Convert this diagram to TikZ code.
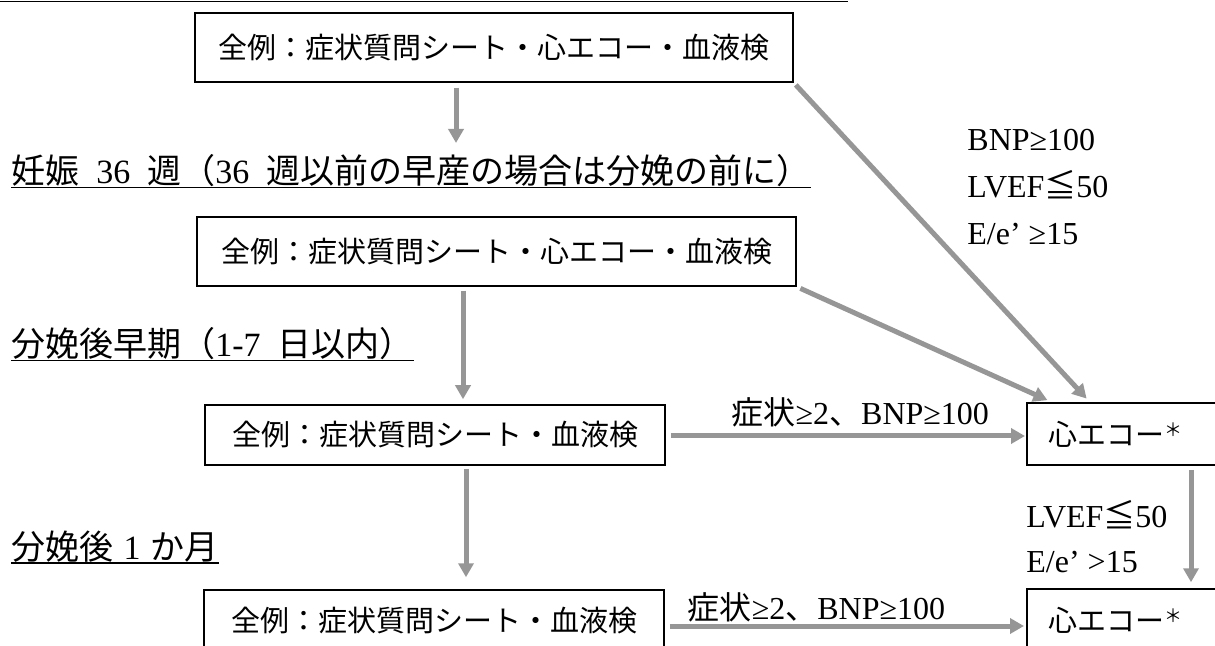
\documentclass[tikz,border=0pt]{standalone}
\usepackage{fontspec}
\setmainfont{Liberation Serif}
\newfontfamily\jp{Noto Sans CJK JP}
\usetikzlibrary{arrows.meta}
\definecolor{arrowgray}{RGB}{150,150,150}
\newcommand{\hsp}{\hspace{0.5em}}
\newcommand{\hsq}{\hspace{0.3em}}
\newcommand{\astx}{\raisebox{0.3em}{\fontsize{9}{9}\selectfont ＊}}
\tikzset{
  box/.style={draw=black, line width=0.75pt, inner sep=0pt, font=\jp\fontsize{14.5}{17}\selectfont},
  echobox/.style={box, anchor=west, text width=85pt, align=left, inner xsep=11pt, minimum height=31pt},
  head/.style={anchor=west, inner sep=0pt, font=\jp\fontsize{17}{19}\selectfont},
  uline/.style={draw=black, line width=0.7pt},
  lab/.style={inner sep=0pt, font=\fontsize{16}{18}\selectfont},
  arr/.style={draw=arrowgray, line width=2.5pt, -{Triangle[width=7.5pt,length=7pt]}},
}
\begin{document}
\begin{tikzpicture}[x=0.5pt,y=-0.5pt]
\useasboundingbox (0,0) rectangle (1215,646);
\clip (0,0) rectangle (1215,646);

% top underline of a heading cut off above
\draw[uline] (0,1.5) -- (848,1.5);

% boxes
\node[box, minimum width=299pt, minimum height=34.5pt] (box1) at (494,47.5) {全例：症状質問シート・心エコー・血液検};
\node[box, minimum width=299.5pt, minimum height=34.5pt] (box2) at (496.5,251.5) {全例：症状質問シート・心エコー・血液検};
\node[box, minimum width=230pt, minimum height=30pt] (box3) at (435,435) {全例：症状質問シート・血液検};
\node[box, minimum width=230pt, minimum height=31pt] (box4) at (434,621) {全例：症状質問シート・血液検};
\node[echobox] (box5) at (1026,434) {心エコー\astx};
\node[echobox] (box6) at (1026,620) {心エコー\astx};

% headings
\node[head] (h2) at (11,171) {妊娠\hsp{\rmfamily 36}\hsp 週（{\rmfamily 36}\hsp 週以前の早産の場合は分娩の前に）};
\draw[uline] (h2.south west) -- (h2.south east);
\node[head] (h3) at (11,344) {分娩後早期（{\rmfamily 1-7}\hsp 日以内）};
\draw[uline] (h3.south west) -- (h3.south east);
\node[head] (h4) at (11,547) {分娩後\hsq{\rmfamily 1}\hsq か月};
\draw[uline] (h4.south west) -- (h4.south east);

% criteria labels
\node[lab, anchor=west, align=left, font=\fontsize{16}{23.5}\selectfont] (crit1) at (967,187) {BNP≥100\\LVEF{\jp ≦}50\\E/e’ ≥15};
\node[lab, anchor=west, align=left, font=\fontsize{16}{22.5}\selectfont] (crit2) at (1026,536.5) {LVEF{\jp ≦}50\\E/e’ >15};

% helper coordinates
\coordinate (a1end) at (456,143);
\coordinate (x2) at (463,0);
\coordinate (x3) at (466,0);
\coordinate (y4) at (0,436);
\coordinate (y5) at (0,626);
\coordinate (x6) at (1191,0);
\coordinate (x7) at (1090,0);
\coordinate (x8) at (1052,0);

% arrows
\draw[arr, shorten <=2.5pt] (box1.south -| a1end) -- (a1end);
\draw[arr, shorten <=2pt, shorten >=2.5pt] (box2.south -| x2) -- (box3.north -| x2);
\draw[arr, shorten <=1.5pt, shorten >=6pt] (box3.south -| x3) -- (box4.north -| x3);
\draw[arr, shorten <=2.5pt, shorten >=0.5pt] (box3.east |- y4) -- (box5.west |- y4)
  node[lab, pos=0.54, yshift=12pt] (l4) {{\jp 症状}≥2{\jp 、}BNP≥100};
\draw[arr, shorten <=2.5pt, shorten >=1pt] (box4.east |- y5) -- (box6.west |- y5)
  node[lab, pos=0.42, yshift=9.5pt] (l5) {{\jp 症状}≥2{\jp 、}BNP≥100};
\draw[arr, shorten <=2pt, shorten >=3pt] (box5.south -| x6) -- (box6.north -| x6);
\draw[arr, shorten <=1.5pt, shorten >=2.5pt] (box1.south east) -- (box5.north -| x7);
\draw[arr, shorten <=2pt, shorten >=2.5pt] (box2.south east) -- (box5.north -| x8);
\end{tikzpicture}
\end{document}
